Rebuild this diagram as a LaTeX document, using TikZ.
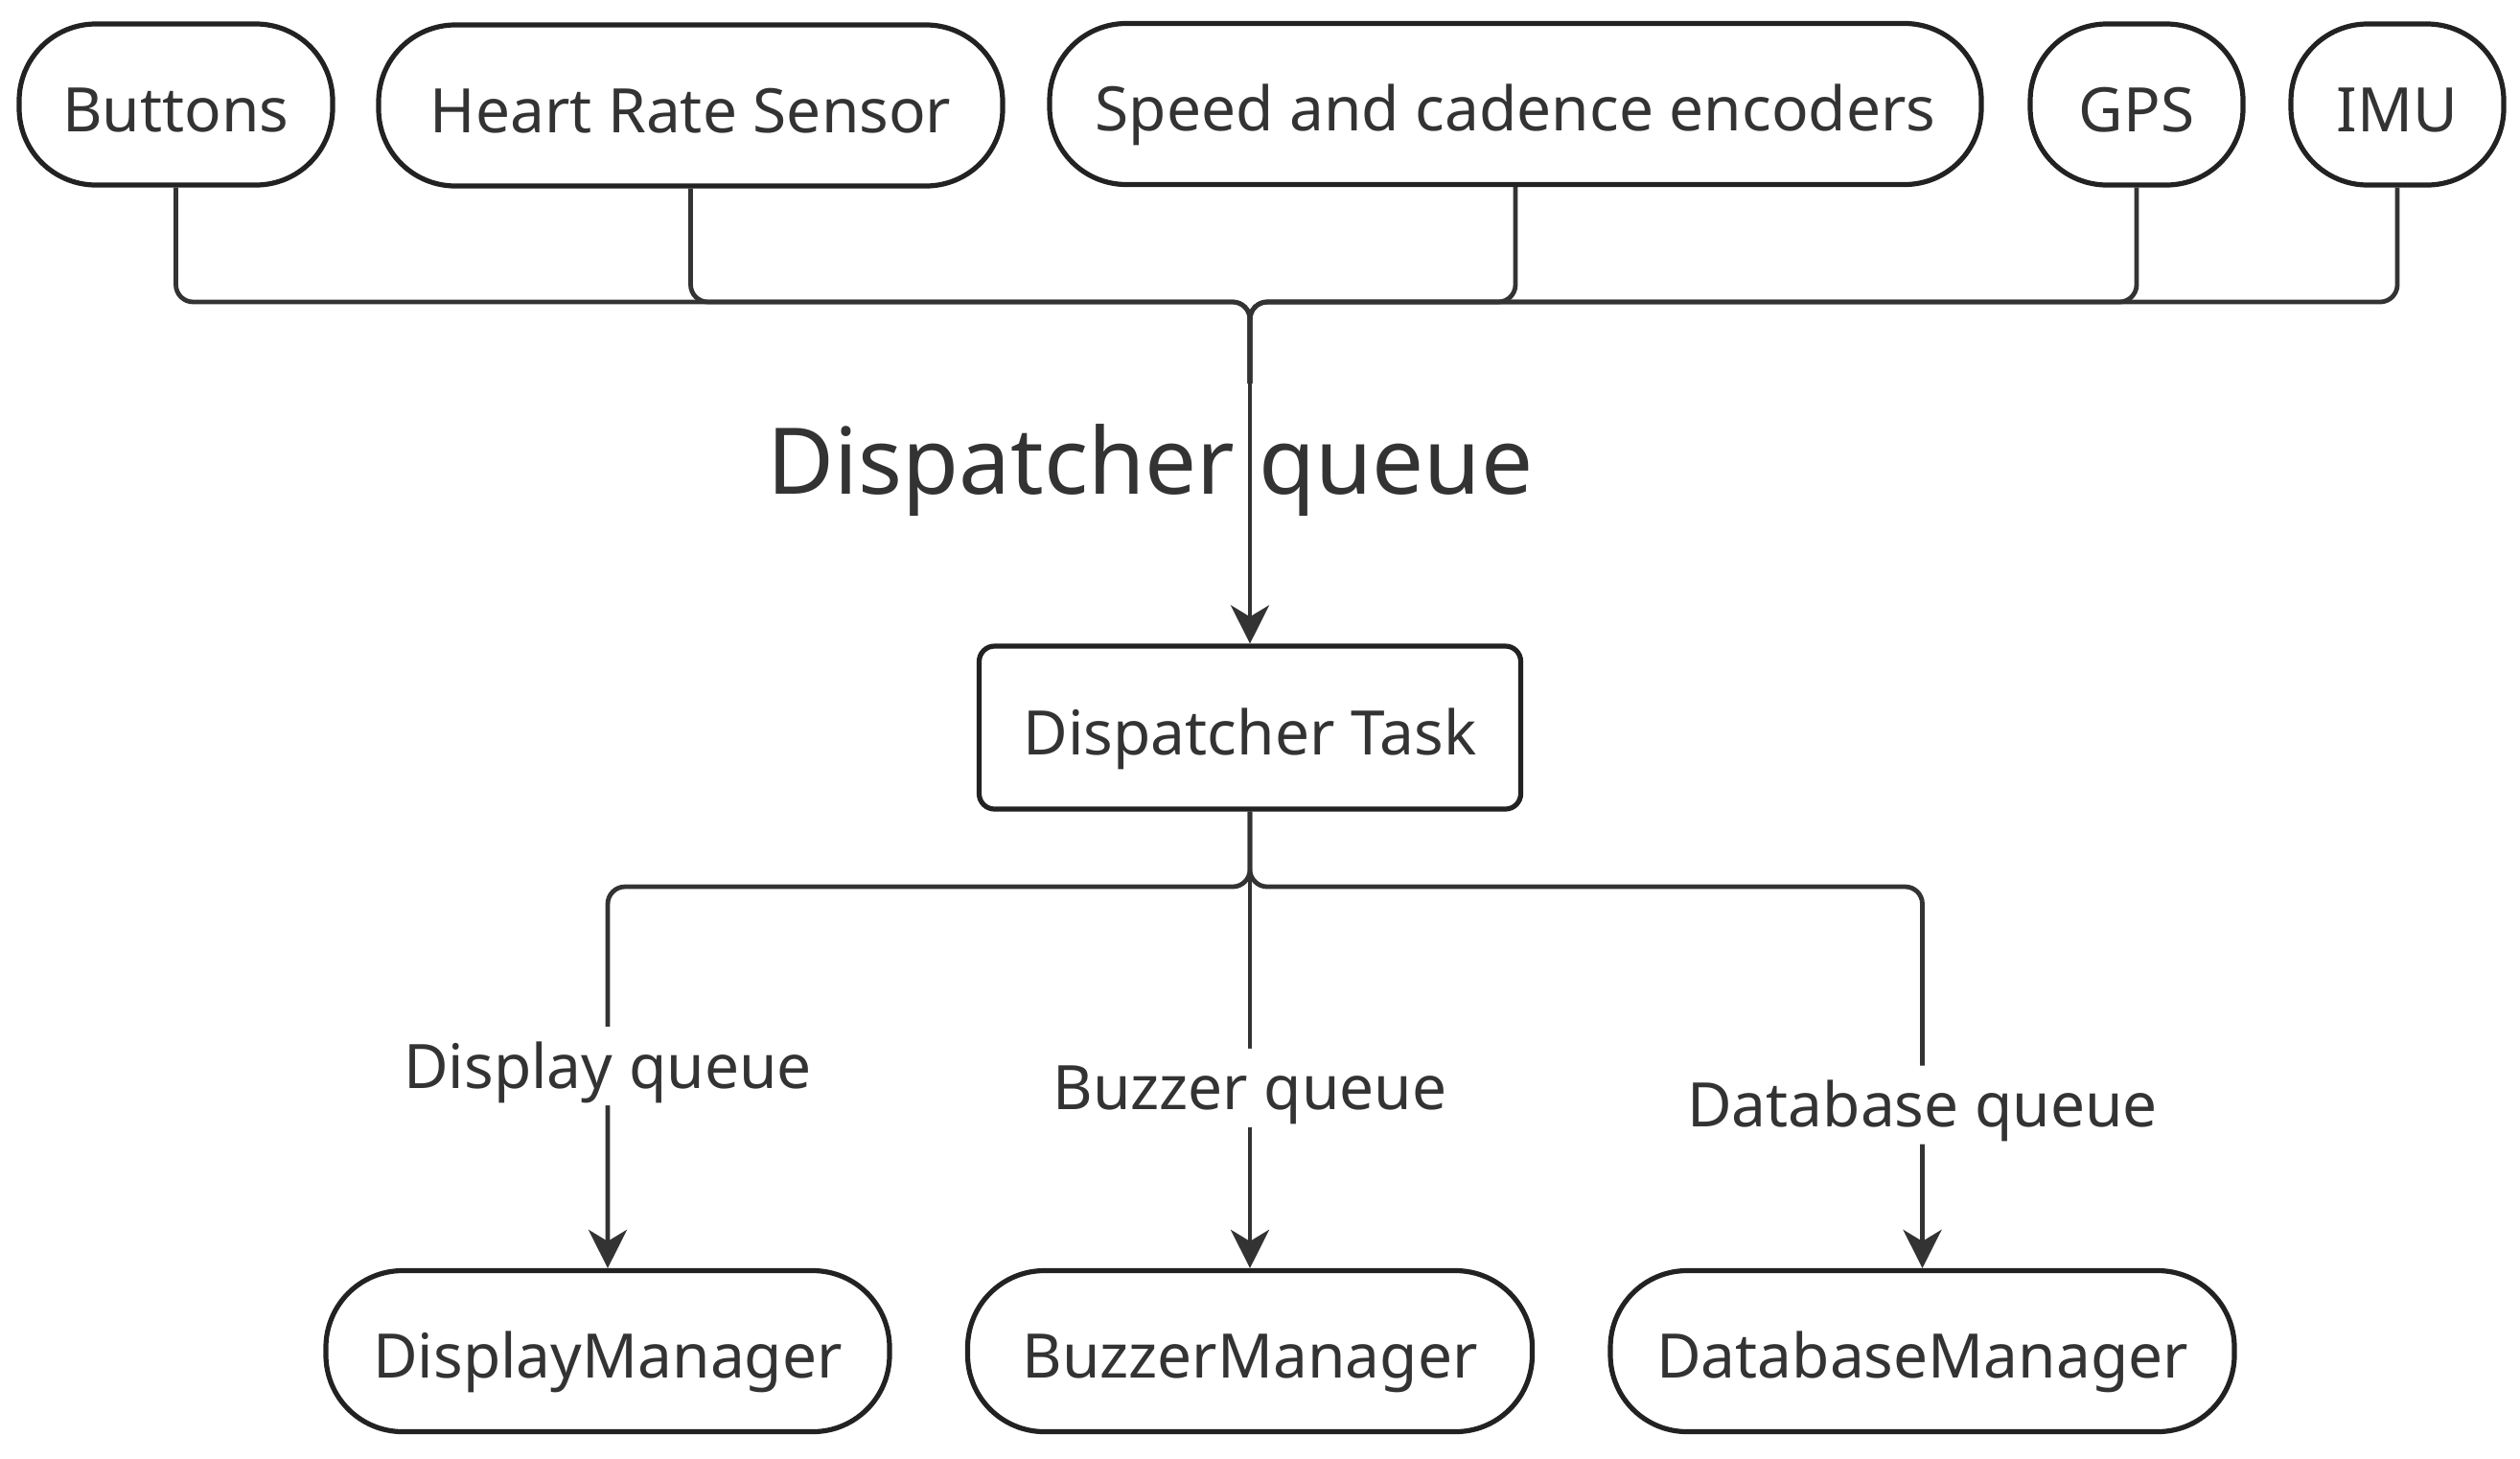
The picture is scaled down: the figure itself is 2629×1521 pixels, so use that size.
\documentclass[tikz,border=0pt]{standalone}
\usepackage{fontspec}
\setmainfont{Noto Sans}
\usetikzlibrary{arrows.meta}
\definecolor{ink}{HTML}{333333}
\definecolor{rim}{HTML}{222222}

\begin{document}
\begin{tikzpicture}[x=0.25pt, y=-0.25pt,
    source/.style={draw=rim, line width=1.3pt, rounded corners=20pt, minimum height=42pt,
        text height=14pt, text depth=0pt, text=ink, font=\fontsize{16}{19}\selectfont},
    task/.style={draw=rim, line width=1.3pt, rounded corners=4pt, minimum height=42.5pt,
        text height=14pt, text depth=0pt, text=ink, font=\fontsize{16}{19}\selectfont},
    link/.style={draw=ink, line width=1.2pt, rounded corners=4.5pt},
    arrow/.style={link, -{Stealth[length=10pt, width=10pt, inset=3pt]}},
    qlabel/.style={fill=white, text=ink, inner sep=4.5pt, text height=11.5pt, text depth=0pt,
        font=\fontsize{16}{19}\selectfont}]
    \useasboundingbox (0,0) rectangle (2629,1521);

    \node[source, minimum width=81.75pt] (btn) at (183.5,109) {Buttons};
    \node[source, minimum width=162.75pt] (hrs) at (720.5,110) {Heart Rate Sensor};
    \node[source, minimum width=243pt] (enc) at (1581,108.5) {Speed and cadence encoders};
    \node[source, minimum width=55.5pt] (gps) at (2229,109) {GPS};
    \node[source, minimum width=55.5pt] (imu) at (2501,109) {IMU};

    \coordinate (hub) at (1304,315);
    \coordinate (hubdrop) at (1304,400);

    \foreach \s in {btn,hrs,enc,gps,imu}
        \draw[link] (\s.south) |- (hub) -- (hubdrop);

    \node[text=ink, font=\fontsize{24}{28}\selectfont] (dq) at (1200,491) {Dispatcher queue};

    \node[task, minimum width=141.25pt] (task) at (1304,759) {Dispatcher Task};
    \draw[arrow] (hubdrop) -- (task.north);

    \node[source, minimum width=147pt] (disp) at (634,1409.5) {DisplayManager};
    \node[source, minimum width=147.25pt] (buzz) at (1304,1409.5) {BuzzerManager};
    \node[source, minimum width=162.75pt] (dbm) at (2005.5,1409.5) {DatabaseManager};

    \coordinate (fork) at (1304,925);

    \draw[arrow] (task.south) -- (fork) -| (disp.north) node[qlabel, pos=0.735] {Display queue};
    \draw[arrow] (task.south) -- (buzz.north) node[qlabel, pos=0.605] {Buzzer queue};
    \draw[arrow] (task.south) -- (fork) -| (dbm.north) node[qlabel, pos=0.786] {Database queue};
\end{tikzpicture}
\end{document}
